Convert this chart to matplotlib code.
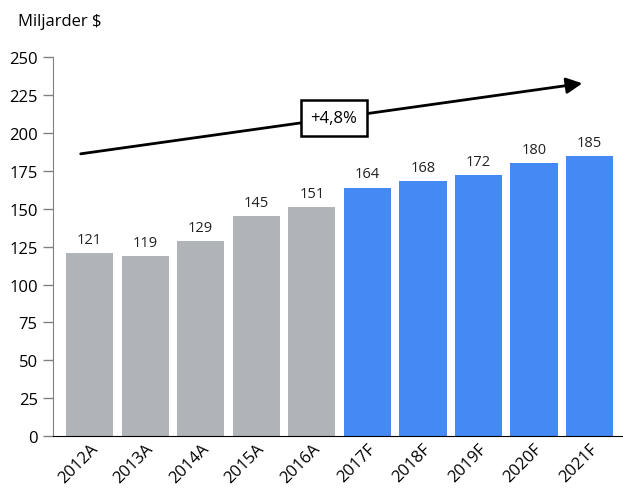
import matplotlib.pyplot as plt

plt.rcParams['font.family'] = ['Open Sans', 'DejaVu Sans']

years = ["2012A", "2013A", "2014A", "2015A", "2016A",
         "2017F", "2018F", "2019F", "2020F", "2021F"]
values = [121, 119, 129, 145, 151, 164, 168, 172, 180, 185]
actual_color = "#b0b4b8"
forecast_color = "#4589f5"
colors = [actual_color if y.endswith("A") else forecast_color for y in years]

fig = plt.figure(figsize=(6.23, 4.89), dpi=100)
ax = fig.add_axes([0.085, 0.106, 0.913, 0.775])

x = range(len(years))
bars = ax.bar(x, values, width=0.85, color=colors)
for b, v in zip(bars, values):
    ax.text(b.get_x() + b.get_width() / 2, v + 4, str(v),
            ha="center", va="bottom", fontsize=10.5, color="#222222")

ax.set_xlim(-0.66, 9.58)
ax.set_ylim(0, 250)
ax.set_yticks(range(0, 251, 25))
ax.set_xticks(list(x))
ax.set_xticklabels(years, rotation=45, ha="right", rotation_mode="anchor", fontsize=12)
ax.tick_params(axis="x", length=0, pad=3)
ax.tick_params(axis="y", length=7, width=1, color="#808080", labelsize=12, pad=4)

for s in ("top", "right"):
    ax.spines[s].set_visible(False)
ax.spines["left"].set_color("#808080")
ax.spines["bottom"].set_color("black")

# CAGR arrow
ax.annotate("", xy=(8.92, 233), xytext=(-0.21, 186),
            arrowprops=dict(arrowstyle="-|>", color="black", lw=2, mutation_scale=24))
ax.text(4.4, 210, "+4,8%", ha="center", va="center", fontsize=12,
        bbox=dict(boxstyle="square,pad=0.6", fc="white", ec="black", lw=1.8))

fig.text(18 / 623, 1 - 22 / 489, "Miljarder $", ha="left", va="center", fontsize=12)

fig.savefig("out.png", dpi=100)
